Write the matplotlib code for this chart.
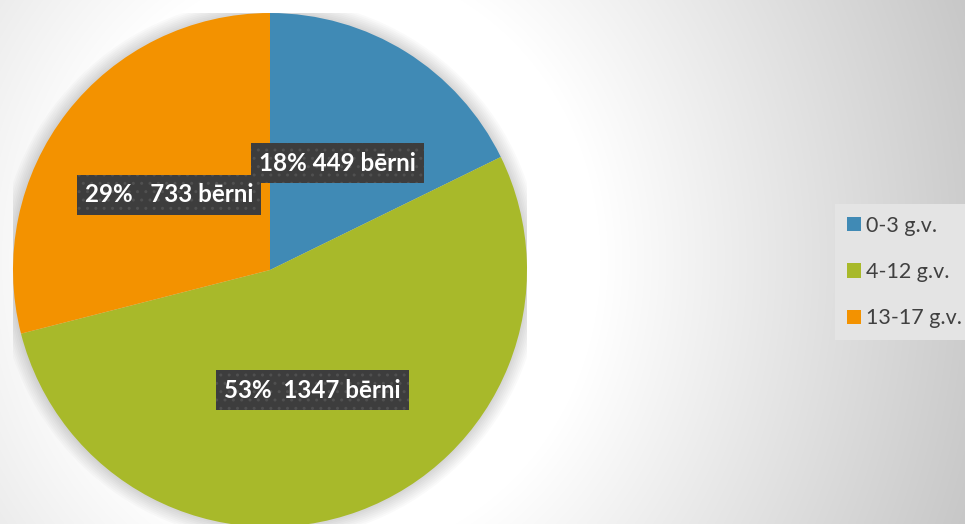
"""
    Pie chart: children by age group.
"""
import numpy as np
import matplotlib.pyplot as plt
from matplotlib.patches import Circle

# Data
age_groups = ['0-3 g.v.', '4-12 g.v.', '13-17 g.v.']
children = [449, 1347, 733]
label_gaps = [' ', '  ', '   ']
colors = ['#408AB5', '#A8B92A', '#F39200']
label_pos = [(0.262, 0.416), (0.165, -0.467), (-0.393, 0.292)]

plt.rcParams['font.family'] = ['Lato', 'DejaVu Sans']

W, H = 965, 524
fig = plt.figure(figsize=(W / 100, H / 100), dpi=100)

# Background: radial gradient, white at the middle, grey towards the corners
bg = fig.add_axes([0, 0, 1, 1])
yy, xx = np.mgrid[0:H, 0:W]
d = np.hypot((xx - 330) / 1.0, (yy - 260) / 1.1)
shade = 1 - 0.22 * np.clip((d - 270) / 410, 0, 1)
bg.imshow(np.dstack([shade] * 3), extent=[0, W, H, 0], aspect='auto')
bg.axis('off')

# Pie axes: centre (270, 270) px, radius 257 px
r = 257
ax = fig.add_axes([(270 - r) / W, (H - 270 - r) / H, 2 * r / W, 2 * r / H])

# soft shadow around the pie
for k in range(8):
    ax.add_patch(Circle((0, 0), 1 + 0.007 * (k + 1), color='#000000', alpha=0.018, lw=0, zorder=0))

wedges, _ = ax.pie(children, colors=colors, startangle=90, counterclock=False,
                   radius=1, center=(0, 0), frame=True,
                   wedgeprops=dict(linewidth=0))
ax.set_xlim(-1, 1)
ax.set_ylim(-1, 1)
ax.axis('off')
for w in wedges:
    w.set_zorder(2)

total = sum(children)
for val, gap, (x, y) in zip(children, label_gaps, label_pos):
    pct = round(100 * val / total)
    ax.text(x, y, f'{pct}%{gap}{val} bērni', ha='center', va='center', color='white',
            fontsize=17.4, fontweight='bold', zorder=5,
            bbox=dict(boxstyle='square,pad=0.34', fc='#3d3d3d', ec='#505050', lw=0, hatch='..'))

leg = fig.legend(wedges, age_groups, loc='upper left', bbox_to_anchor=(835 / W, 1 - 204 / H),
                 frameon=True, fancybox=False, facecolor='#e4e4e4', edgecolor='none', framealpha=1,
                 fontsize=15.5, labelcolor='#404040', handlelength=0.65, handleheight=0.65,
                 handletextpad=0.25, labelspacing=1.22, borderpad=0.55, borderaxespad=0)

fig.savefig('out.png', dpi=100)
